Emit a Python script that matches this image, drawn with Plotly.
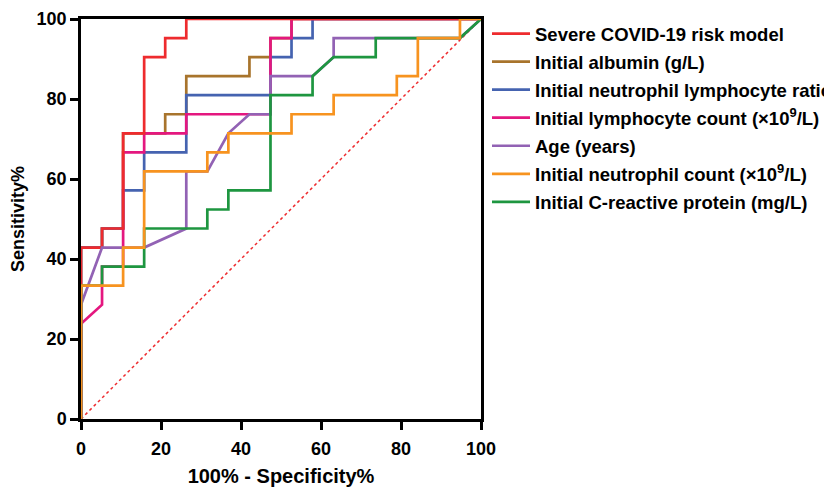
import plotly.graph_objects as go

# ROC step points (100% - specificity %, sensitivity %)
red_x = [0, 0, 5.26, 5.26, 10.53, 10.53, 15.79, 15.79, 21.05, 21.05, 26.32, 26.32, 100]
red_y = [0, 42.86, 42.86, 47.62, 47.62, 71.43, 71.43, 90.48, 90.48, 95.24, 95.24, 100, 100]

brown_x = [0, 0, 5.26, 5.26, 10.53, 10.53, 21.05, 21.05, 26.32, 26.32, 42.11, 42.11, 47.37, 47.37, 52.63, 52.63, 100]
brown_y = [0, 42.86, 42.86, 47.62, 47.62, 71.43, 71.43, 76.19, 76.19, 85.71, 85.71, 90.48, 90.48, 95.24, 95.24, 100, 100]

blue_x = [0, 0, 5.26, 5.26, 10.53, 10.53, 15.79, 15.79, 26.32, 26.32, 47.37, 47.37, 52.63, 52.63, 57.89, 57.89, 100]
blue_y = [0, 42.86, 42.86, 47.62, 47.62, 57.14, 57.14, 66.67, 66.67, 80.95, 80.95, 90.48, 90.48, 95.24, 95.24, 100, 100]

magenta_x = [0, 0, 5.26, 5.26, 10.53, 10.53, 15.79, 15.79, 26.32, 26.32, 47.37, 47.37, 52.63, 52.63, 100]
magenta_y = [0, 23.81, 28.57, 38.10, 38.10, 66.67, 66.67, 71.43, 71.43, 76.19, 76.19, 95.24, 95.24, 100, 100]

purple_x = [0, 0, 5.26, 15.79, 26.32, 26.32, 31.58, 36.84, 42.11, 47.37, 47.37, 57.89, 63.16, 63.16, 94.74, 100]
purple_y = [0, 28.57, 42.86, 42.86, 47.62, 61.90, 61.90, 71.43, 76.19, 76.19, 85.71, 85.71, 90.48, 95.24, 95.24, 100]

orange_x = [0, 0, 10.53, 10.53, 15.79, 15.79, 31.58, 31.58, 36.84, 36.84, 52.63, 52.63, 63.16, 63.16, 78.95, 78.95, 84.21, 84.21, 94.74, 94.74, 100]
orange_y = [0, 33.33, 33.33, 42.86, 42.86, 61.90, 61.90, 66.67, 66.67, 71.43, 71.43, 76.19, 76.19, 80.95, 80.95, 85.71, 85.71, 95.24, 95.24, 100, 100]

green_x = [0, 0, 5.26, 5.26, 15.79, 15.79, 31.58, 31.58, 36.84, 36.84, 47.37, 47.37, 57.89, 57.89, 63.16, 73.68, 73.68, 94.74, 100]
green_y = [0, 33.33, 33.33, 38.10, 38.10, 47.62, 47.62, 52.38, 52.38, 57.14, 57.14, 80.95, 80.95, 85.71, 90.48, 90.48, 95.24, 95.24, 100]

ref_x = [0, 100]
ref_y = [0, 100]

names = {
    "red": "Severe COVID-19 risk model",
    "brown": "Initial albumin (g/L)",
    "blue": "Initial neutrophil lymphocyte ratio",
    "magenta": "Initial lymphocyte count (×10<sup>9</sup>/L)",
    "purple": "Age (years)",
    "orange": "Initial neutrophil count (×10<sup>9</sup>/L)",
    "green": "Initial C-reactive protein (mg/L)",
}
colors = {
    "red": "#EE2B2E",
    "brown": "#A8742C",
    "blue": "#4563B0",
    "magenta": "#E4177F",
    "purple": "#9262B4",
    "orange": "#F7931F",
    "green": "#1E9640",
}
ranks = {"red": 1, "brown": 2, "blue": 3, "magenta": 4, "purple": 5, "orange": 6, "green": 7}
series = {
    "red": (red_x, red_y),
    "brown": (brown_x, brown_y),
    "blue": (blue_x, blue_y),
    "magenta": (magenta_x, magenta_y),
    "purple": (purple_x, purple_y),
    "orange": (orange_x, orange_y),
    "green": (green_x, green_y),
}
draw_order = ["brown", "blue", "magenta", "red", "purple", "green", "orange"]

FONT = "Liberation Sans, Arial, sans-serif"
W, H = 832, 488

fig = go.Figure()
fig.add_trace(go.Scatter(x=ref_x, y=ref_y, mode="lines", showlegend=False,
                         line=dict(color="#EE2B2E", width=1.5, dash="dot"), hoverinfo="skip"))
for key in draw_order:
    xs, ys = series[key]
    fig.add_trace(go.Scatter(
        x=xs, y=ys, mode="lines", name=names[key],
        line=dict(color=colors[key], width=2.7),
        legendrank=ranks[key], legendgroup=key,
    ))

axis_common = dict(
    range=[0, 100], tickvals=[0, 20, 40, 60, 80, 100],
    showgrid=False, zeroline=False, automargin=False,
    showline=True, linecolor="black", linewidth=2.5, mirror=True,
    ticks="outside", ticklen=8, tickwidth=2.5, tickcolor="black",
    tickfont=dict(family=FONT, size=18, color="black", weight="bold"),
    layer="below traces",
)

fig.update_layout(
    width=W, height=H,
    margin=dict(l=73, r=359, t=11, b=77, autoexpand=False),
    paper_bgcolor="white", plot_bgcolor="white",
    xaxis=dict(**axis_common, ticklabelstandoff=4,
               title=dict(text="100% - Specificity%", standoff=11,
                          font=dict(family=FONT, size=20, color="black", weight="bold"))),
    yaxis=dict(**axis_common,
               title=dict(text="Sensitivity%", standoff=10,
                          font=dict(family=FONT, size=18, color="black", weight="bold"))),
    legend=dict(
        x=479 / W, xanchor="left", xref="container",
        y=1 - 7 / H, yanchor="top", yref="container",
        font=dict(family=FONT, size=18.5, color="black", weight="bold"),
        tracegroupgap=1, bgcolor="rgba(0,0,0,0)", itemwidth=38,
    ),
    showlegend=True,
)

fig.write_html("out.html")
